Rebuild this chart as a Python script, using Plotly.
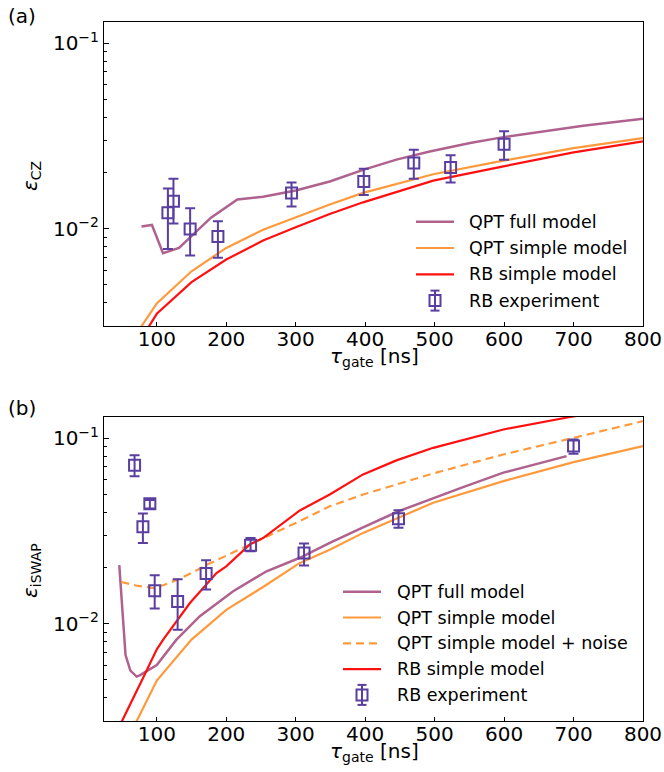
import plotly.graph_objects as go
import math

# ---------------- Panel (a): CZ ----------------
cz_full_x = [78, 93, 109, 132, 178, 216, 253, 300, 349, 397, 445, 493, 551, 599, 714, 800]
cz_full_y = [0.0103, 0.0105, 0.0074, 0.0079, 0.0115, 0.0144, 0.0149, 0.0161, 0.0180, 0.0208, 0.0236, 0.0261, 0.0290, 0.0312, 0.0359, 0.0392]

cz_simple_x = [70, 80, 100, 150, 200, 253, 300, 349, 397, 498, 599, 700, 800]
cz_simple_y = [0.0027, 0.00306, 0.00397, 0.00591, 0.0079, 0.0099, 0.01154, 0.01352, 0.01563, 0.0197, 0.0233, 0.0272, 0.0308]

cz_rb_x = [80, 89, 100, 150, 200, 253, 300, 349, 397, 498, 599, 700, 800]
cz_rb_y = [0.0026, 0.0030, 0.00349, 0.00517, 0.00684, 0.00865, 0.0102, 0.01204, 0.0139, 0.0182, 0.0217, 0.0258, 0.0296]

cz_exp_x = [116, 124, 148, 188, 294, 398, 470, 523, 600]
cz_exp_y = [0.0122, 0.0141, 0.0100, 0.0091, 0.0156, 0.0180, 0.0226, 0.0214, 0.0286]
cz_exp_up = [0.0043, 0.0045, 0.0029, 0.0019, 0.0022, 0.0031, 0.0041, 0.0035, 0.0049]
cz_exp_dn = [0.0044, 0.0034, 0.0028, 0.0021, 0.0024, 0.0028, 0.0040, 0.0036, 0.0050]

# ---------------- Panel (b): iSWAP ----------------
isw_full_x = [46, 51, 55, 62, 71, 76, 100, 128, 162, 210, 258, 306, 349, 397, 448, 541, 599, 690]
isw_full_y = [0.0207, 0.0118, 0.0068, 0.0056, 0.0052, 0.0053, 0.0060, 0.0082, 0.0110, 0.0150, 0.0192, 0.0227, 0.0273, 0.0331, 0.0404, 0.0545, 0.0652, 0.0800]

isw_simple_x = [65, 72, 100, 150, 200, 253, 306, 349, 397, 498, 599, 700, 800]
isw_simple_y = [0.0027, 0.00305, 0.00495, 0.00823, 0.0119, 0.0158, 0.0213, 0.0251, 0.0309, 0.0449, 0.0587, 0.0743, 0.0906]

isw_noise_x = [49, 70, 95, 110, 128, 150, 172, 200, 234, 253, 306, 349, 397, 498, 599, 700, 800]
isw_noise_y = [0.0168, 0.0161, 0.0156, 0.0162, 0.0172, 0.0188, 0.0208, 0.0233, 0.0267, 0.0286, 0.0358, 0.0430, 0.0497, 0.0646, 0.0817, 0.1004, 0.1235]

isw_rb_x = [45, 50, 80, 100, 110, 148, 186, 200, 234, 253, 306, 349, 397, 445, 498, 599, 695, 800]
isw_rb_y = [0.0026, 0.0030, 0.0051, 0.0073, 0.0083, 0.0130, 0.0188, 0.0204, 0.0268, 0.0290, 0.0408, 0.0497, 0.0638, 0.0759, 0.0887, 0.1114, 0.1300, 0.1500]

isw_exp_x = [68, 80, 90, 97, 130, 171, 235, 312, 448, 700]
isw_exp_y = [0.0715, 0.0333, 0.0443, 0.0151, 0.0132, 0.0187, 0.0265, 0.0241, 0.0368, 0.0906]
isw_exp_up = [0.0095, 0.0060, 0.0022, 0.0032, 0.0042, 0.0033, 0.0025, 0.0030, 0.0041, 0.0078]
isw_exp_dn = [0.0091, 0.0060, 0.0025, 0.0030, 0.0039, 0.0034, 0.0019, 0.0035, 0.0039, 0.0082]

x_ticks = [100, 200, 300, 400, 500, 600, 700, 800]
y_ticks = [0.01, 0.1]
y_ticktext = ["10<sup>−2</sup>", "10<sup>−1</sup>"]
y_minor = [0.003, 0.004, 0.005, 0.006, 0.007, 0.008, 0.009,
           0.02, 0.03, 0.04, 0.05, 0.06, 0.07, 0.08, 0.09]

C_FULL = "#b0628e"
C_SIMPLE = "#ff9a3c"
C_RB = "#ff1010"
C_EXP = "#5a3ea0"
FONT = "DejaVu Sans"
NOISE_DASH = "8px,5px"

W, H = 664, 772
L, R = 104, 21
PW = W - L - R

def px_x(p):
    return (p - L) / PW

def px_y(p):
    return (H - p) / H

fig = go.Figure()

def add_line(x, y, name, color, ax, dash="solid", width=2.2):
    fig.add_trace(go.Scatter(
        x=x, y=y, mode="lines", name=name, showlegend=False,
        line=dict(color=color, width=width, dash=dash),
        xaxis="x" + ax, yaxis="y" + ax,
    ))

def add_exp(x, y, up, dn, ax):
    fig.add_trace(go.Scatter(
        x=x, y=y, mode="markers", name="RB experiment", showlegend=False,
        marker=dict(symbol="square-open", size=11, color=C_EXP,
                    line=dict(width=2, color=C_EXP)),
        error_y=dict(type="data", array=up, arrayminus=dn, symmetric=False,
                     color=C_EXP, thickness=2, width=5),
        xaxis="x" + ax, yaxis="y" + ax,
    ))

# panel a
add_line(cz_full_x, cz_full_y, "QPT full model", C_FULL, "", width=2.5)
add_line(cz_simple_x, cz_simple_y, "QPT simple model", C_SIMPLE, "")
add_line(cz_rb_x, cz_rb_y, "RB simple model", C_RB, "")
add_exp(cz_exp_x, cz_exp_y, cz_exp_up, cz_exp_dn, "")

# panel b
add_line(isw_full_x, isw_full_y, "QPT full model", C_FULL, "2", width=2.5)
add_line(isw_simple_x, isw_simple_y, "QPT simple model", C_SIMPLE, "2")
add_line(isw_noise_x, isw_noise_y, "QPT simple model + noise", C_SIMPLE, "2", dash=NOISE_DASH)
add_line(isw_rb_x, isw_rb_y, "RB simple model", C_RB, "2")
add_exp(isw_exp_x, isw_exp_y, isw_exp_up, isw_exp_dn, "2")

xcommon = dict(range=[24, 800], tickvals=x_ticks, ticks="inside", ticklen=4,
               tickwidth=1, tickcolor="black", showline=True, mirror=True,
               linecolor="black", linewidth=1, showgrid=False, zeroline=False,
               ticklabelstandoff=-5,
               tickfont=dict(family=FONT, size=20, color="black"), domain=[0, 1])
ycommon = dict(type="log", range=[math.log10(0.003), math.log10(0.13)],
               tickvals=y_ticks, ticktext=y_ticktext, ticks="inside", ticklen=4.5,
               tickwidth=1, tickcolor="black", showline=True, mirror=True,
               linecolor="black", linewidth=1, showgrid=False, zeroline=False,
               tickfont=dict(family=FONT, size=20, color="black"),
               minor=dict(tickvals=y_minor, ticks="inside", ticklen=2.5,
                          tickwidth=1, tickcolor="black", showgrid=False))

LEG_SIZE = 17.5

fig.update_layout(
    width=W, height=H,
    margin=dict(l=L, r=R, t=0, b=0),
    paper_bgcolor="white", plot_bgcolor="white",
    font=dict(family=FONT, size=20, color="black"),
    xaxis=dict(**xcommon, anchor="y"),
    yaxis=dict(**ycommon, domain=[px_y(326), px_y(22)], anchor="x"),
    xaxis2=dict(**xcommon, anchor="y2"),
    yaxis2=dict(**ycommon, domain=[px_y(721), px_y(417)], anchor="x2"),
    showlegend=False,
)

ann = []
shapes = []
def A(text, x, y, angle=0, size=20, xa="center", ya="middle"):
    ann.append(dict(text=text, x=x, y=y, xref="paper", yref="paper",
                    showarrow=False, textangle=angle, xanchor=xa, yanchor=ya,
                    font=dict(family=FONT, size=size, color="black")))

A("(a)", px_x(22), px_y(16))
A("(b)", px_x(22), px_y(408))
A("<i>ε</i><sub>CZ</sub>", px_x(31), px_y(176), angle=-90)
A("<i>ε</i><sub>iSWAP</sub>", px_x(31), px_y(571), angle=-90)
A("<i>τ</i><sub>gate</sub> [ns]", px_x(374), px_y(357))
A("<i>τ</i><sub>gate</sub> [ns]", px_x(374), px_y(752))

def S(x0, x1, y0, y1, col, lw, kind="line", dash="solid"):
    d = dict(type=kind, xref="paper", yref="paper",
             x0=px_x(x0), x1=px_x(x1), y0=px_y(y0), y1=px_y(y1),
             line=dict(color=col, width=lw, dash=dash))
    if kind == "rect":
        d["fillcolor"] = "rgba(0,0,0,0)"
    shapes.append(d)

def draw_key(entries, x0, x1, tx, y0, dy):
    for i, (label, col, lw, dash) in enumerate(entries):
        yc = y0 + i * dy
        if lw is not None:
            S(x0, x1, yc, yc, col, lw, dash=dash)
        else:
            xc = (x0 + x1) / 2
            S(xc, xc, yc - 10, yc + 10, col, 2)
            for yy in (yc - 10, yc + 10):
                S(xc - 4.5, xc + 4.5, yy, yy, col, 2)
            S(xc - 5.5, xc + 5.5, yc - 5.5, yc + 5.5, col, 2, kind="rect")
        A(label, px_x(tx), px_y(yc), size=LEG_SIZE, xa="left")

key_a = [("QPT full model", C_FULL, 2.5, "solid"),
         ("QPT simple model", C_SIMPLE, 2.2, "solid"),
         ("RB simple model", C_RB, 2.2, "solid"),
         ("RB experiment", C_EXP, None, None)]
key_b = [("QPT full model", C_FULL, 2.5, "solid"),
         ("QPT simple model", C_SIMPLE, 2.2, "solid"),
         ("QPT simple model + noise", C_SIMPLE, 2.2, NOISE_DASH),
         ("RB simple model", C_RB, 2.2, "solid"),
         ("RB experiment", C_EXP, None, None)]

draw_key(key_a, 416, 454, 467, 221.7, 26.3)
draw_key(key_b, 343, 381, 395, 591.7, 25.8)

fig.update_layout(annotations=ann, shapes=shapes)

fig.write_html("out.html")
